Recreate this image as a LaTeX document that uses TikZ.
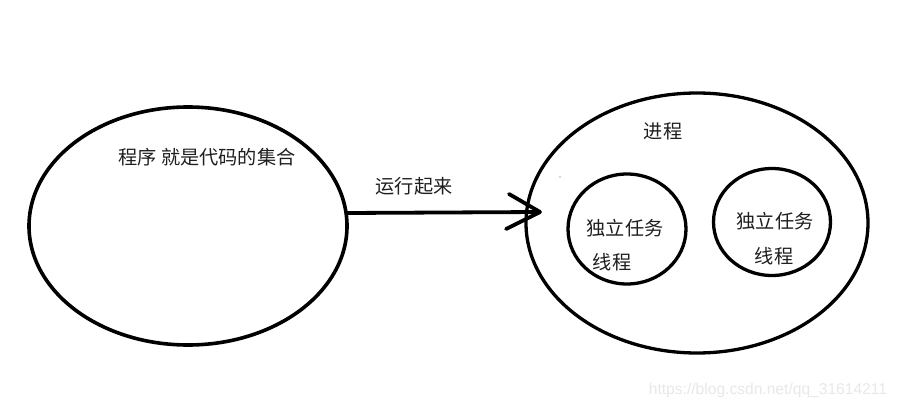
\documentclass[tikz,border=0pt]{standalone}
\usepackage{fontspec}
\setmainfont{Noto Sans CJK SC}
\newfontfamily\wmfont{Liberation Sans}
\usetikzlibrary{shapes.geometric}
\begin{document}
\begin{tikzpicture}[x=1pt,y=-1pt,
  ring/.style={draw=black,line width=3.6pt,ellipse,inner sep=0pt,outer sep=0pt},
  lbl/.style={inner sep=0pt,font=\fontsize{19.2}{23}\selectfont,text=black!88},
  wm/.style={inner sep=0pt,font=\wmfont\fontsize{15.6}{18}\selectfont,text=black!9}]
\useasboundingbox[fill=white] (0,0) rectangle (898,409);
\node[ring,minimum width=318pt,minimum height=238pt] (prog) at (188,226) {};
\node[ring,line width=3.3pt,minimum width=342pt,minimum height=260pt] (proc) at (697,223) {};
\node[ring,line width=3.3pt,minimum width=118pt,minimum height=110pt] (t1) at (627,229) {};
\node[ring,line width=3.3pt,minimum width=117pt,minimum height=107pt] (t2) at (772,222) {};
\node[lbl] (progtxt) at (207,157) {程序 就是代码的集合};
\node[lbl] (run) at (414,186) {运行起来};
\node[lbl] (proctxt) at (663,131) {进程};
\node[lbl] (t1a) at (625,228) {独立任务};
\node[lbl] (t1b) at (612,262) {线程};
\node[lbl] (t2a) at (775,221) {独立任务};
\node[lbl] (t2b) at (774,256) {线程};
\coordinate (tip) at (540,212);
\draw[line width=3.8pt] (prog.east |- 0,213) -- (tip);
\draw[line width=3.8pt,line cap=round] (tip) -- (509,194);
\draw[line width=3.8pt,line cap=round] (tip) -- (506,229);
\fill[black!60] (560,177) circle (0.7pt);
\node[wm] (url) at (768,390) {https://blog.csdn.net/qq\_31614211};
\end{tikzpicture}
\end{document}
